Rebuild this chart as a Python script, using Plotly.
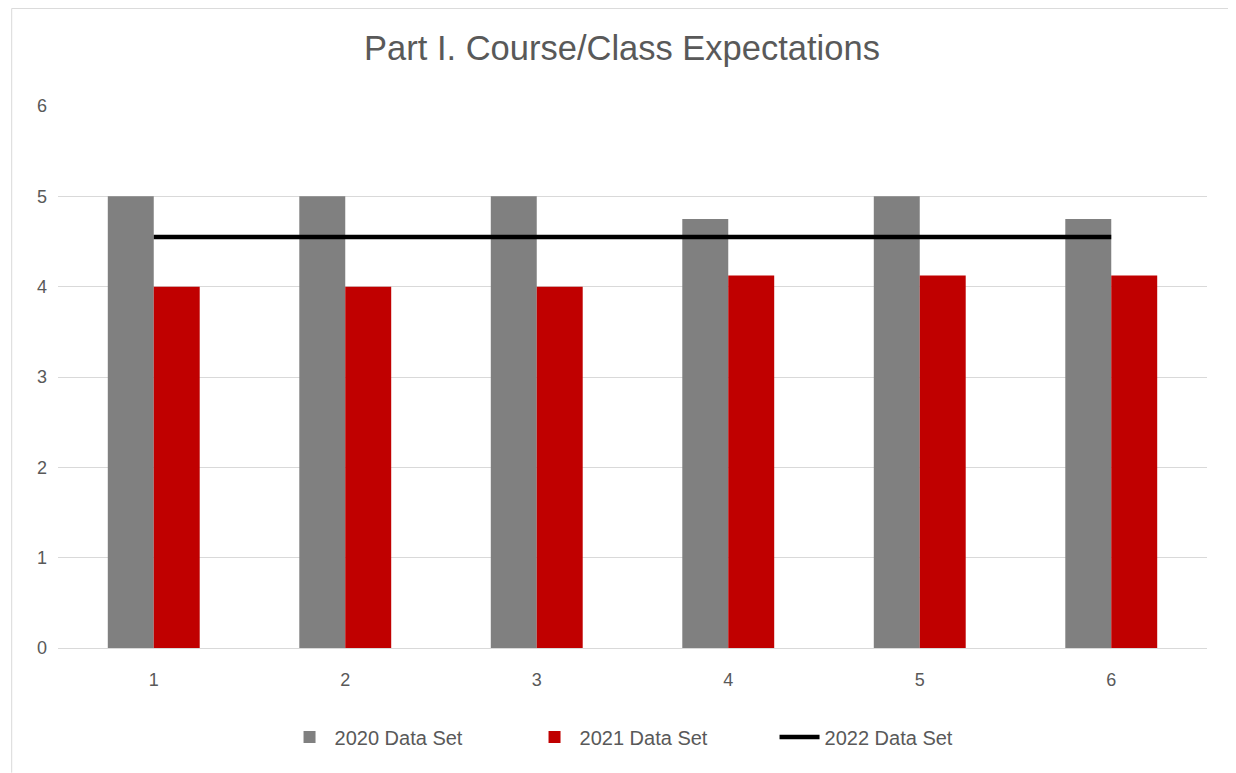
import plotly.graph_objects as go

# data
categories = ["1", "2", "3", "4", "5", "6"]
data_2020 = [5, 5, 5, 4.75, 5, 4.75]
data_2021 = [4, 4, 4, 4.125, 4.125, 4.125]
data_2022 = [4.55, 4.55, 4.55, 4.55, 4.55, 4.55]
y_ticks = [0, 1, 2, 3, 4, 5, 6]

TEXT_COLOR = "#595959"
FONT = "Liberation Sans"

fig = go.Figure()

fig.add_trace(go.Bar(
    x=categories, y=data_2020, name="2020 Data Set",
    marker=dict(color="#808080", line=dict(width=0)),
))
fig.add_trace(go.Bar(
    x=categories, y=data_2021, name="2021 Data Set",
    marker=dict(color="#C00000", line=dict(width=0)),
))
fig.add_trace(go.Scatter(
    x=categories, y=data_2022, name="2022 Data Set",
    mode="lines", line=dict(color="black", width=4.5),
))

# page body adds an 8px offset, so the figure is sized to fit the window
fig.update_layout(
    width=1228, height=765,
    margin=dict(l=50, r=29, t=98, b=125),
    paper_bgcolor="white", plot_bgcolor="white",
    barmode="group", bargap=0.52, bargroupgap=0,
    font=dict(family=FONT, color=TEXT_COLOR, size=18),
    title=dict(
        text="Part I. Course/Class Expectations",
        x=0.5, xanchor="center", y=1 - 40 / 765, yanchor="middle",
        font=dict(size=34.5, color=TEXT_COLOR, family=FONT),
    ),
    xaxis=dict(
        type="category", showgrid=False, showline=True,
        linecolor="#D9D9D9", linewidth=1,
        ticks="", ticklabelstandoff=15, tickfont=dict(size=18),
    ),
    yaxis=dict(
        range=[0, 6], tickvals=y_ticks, showgrid=True,
        gridcolor="#D9D9D9", gridwidth=1, zeroline=False,
        showline=False, ticks="", ticklabelstandoff=10,
        tickfont=dict(size=18),
    ),
    legend=dict(
        orientation="h", x=0.517, xanchor="center",
        y=-0.164, yanchor="middle",
        font=dict(size=20, color=TEXT_COLOR),
        itemwidth=40, entrywidthmode="pixels", entrywidth=190,
    ),
    shapes=[
        dict(type="line", xref="paper", yref="paper", x0=-0.0403, x1=-0.0403,
             y0=-0.23, y1=1.18, line=dict(color="#D9D9D9", width=1)),
        dict(type="line", xref="paper", yref="paper", x0=-0.0403, x1=1.024,
             y0=1.18, y1=1.18, line=dict(color="#D9D9D9", width=1)),
    ],
)

fig.write_html("out.html")
